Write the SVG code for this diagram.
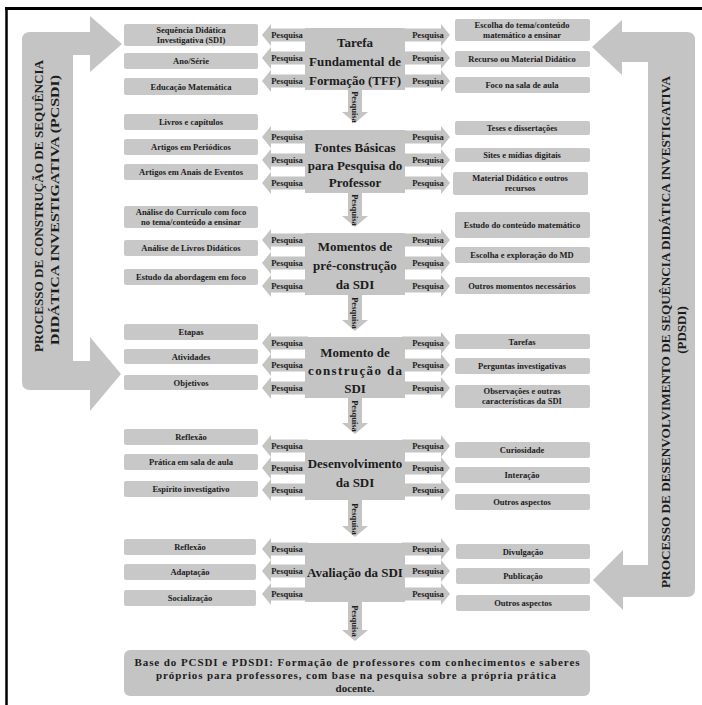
<svg xmlns="http://www.w3.org/2000/svg" width="702" height="705" viewBox="0 0 702 705">
<style>
.g{fill:#c4c4c4}
.bx{fill:#c8c8c8}
.t{font-family:'Liberation Serif','Times New Roman',serif;font-weight:bold;fill:#1c1c1c}
.s{font-size:8.5px;text-anchor:middle}
.p{font-size:8.5px;text-anchor:middle}
.c{font-size:13px;text-anchor:middle}
.side{font-size:13px;text-anchor:middle}
.base{font-size:11px;text-anchor:middle}
</style>
<rect width="702" height="705" fill="#fff"/>
<g id="frame" stroke="#000" fill="none">
<line x1="5" y1="8.5" x2="702" y2="8.5" stroke-width="3"/>
<line x1="6.5" y1="8" x2="6.5" y2="705" stroke-width="2.5"/>
</g>
<g font-family="Liberation Serif, serif" font-weight="bold">
<g id="pcsdi">
<path class="g" d="M22,40 Q22,32 30,32 H90 V16 L122,44 L90,72 V55 H73 V361 H90 V337 L121,374 L90,411 V390 H30 Q22,390 22,382 Z"/>
<text class="t side" transform="translate(43,206) rotate(-90)" textLength="292" lengthAdjust="spacingAndGlyphs">PROCESSO DE CONSTRUÇÃO DE SEQUÊNCIA</text>
<text class="t side" transform="translate(59,210) rotate(-90)" textLength="270" lengthAdjust="spacingAndGlyphs">DIDÁTICA INVESTIGATIVA (PCSDI)</text>
</g>

<g id="pdsdi">
<path class="g" d="M695,40 Q695,32 687,32 H622 V20 L592,47 L622,75 V62 H648 V565 H623 V550 L593,580 L623,610 V597 H687 Q695,597 695,589 Z"/>
<text class="t side" transform="translate(670,332) rotate(-90)" textLength="512" lengthAdjust="spacingAndGlyphs">PROCESSO DE DESENVOLVIMENTO DE SEQUÊNCIA DIDÁTICA INVESTIGATIVA</text>
<text class="t side" transform="translate(686,330) rotate(-90)">(PDSDI)</text>
</g>

<g id="connectors">
<path class="g" d="M308,28.5 H271 V24 L262,35 L271,46 V41.5 H308 Z"/>
<path class="g" d="M308,51.5 H271 V47 L262,58 L271,69 V64.5 H308 Z"/>
<path class="g" d="M308,74.5 H271 V70 L262,81 L271,92 V87.5 H308 Z"/>
<path class="g" d="M402,28.5 H441 V24 L450,35 L441,46 V41.5 H402 Z"/>
<path class="g" d="M402,51.5 H441 V47 L450,58 L441,69 V64.5 H402 Z"/>
<path class="g" d="M402,74.5 H441 V70 L450,81 L441,92 V87.5 H402 Z"/>
<path class="g" d="M348,89 H362 V112 H368 L355,123 L342,112 H348 Z"/>
<path class="g" d="M308,130.5 H271 V126 L262,137 L271,148 V143.5 H308 Z"/>
<path class="g" d="M308,153.5 H271 V149 L262,160 L271,171 V166.5 H308 Z"/>
<path class="g" d="M308,176.5 H271 V172 L262,183 L271,194 V189.5 H308 Z"/>
<path class="g" d="M402,130.5 H441 V126 L450,137 L441,148 V143.5 H402 Z"/>
<path class="g" d="M402,153.5 H441 V149 L450,160 L441,171 V166.5 H402 Z"/>
<path class="g" d="M402,176.5 H441 V172 L450,183 L441,194 V189.5 H402 Z"/>
<path class="g" d="M348,192 H362 V216 H368 L355,227 L342,216 H348 Z"/>
<path class="g" d="M308,233.5 H271 V229 L262,240 L271,251 V246.5 H308 Z"/>
<path class="g" d="M308,256.5 H271 V252 L262,263 L271,274 V269.5 H308 Z"/>
<path class="g" d="M308,279.5 H271 V275 L262,286 L271,297 V292.5 H308 Z"/>
<path class="g" d="M402,233.5 H441 V229 L450,240 L441,251 V246.5 H402 Z"/>
<path class="g" d="M402,256.5 H441 V252 L450,263 L441,274 V269.5 H402 Z"/>
<path class="g" d="M402,279.5 H441 V275 L450,286 L441,297 V292.5 H402 Z"/>
<path class="g" d="M348,294 H362 V320 H368 L355,331 L342,320 H348 Z"/>
<path class="g" d="M308,336.5 H271 V332 L262,343 L271,354 V349.5 H308 Z"/>
<path class="g" d="M308,358.5 H271 V354 L262,365 L271,376 V371.5 H308 Z"/>
<path class="g" d="M308,381.5 H271 V377 L262,388 L271,399 V394.5 H308 Z"/>
<path class="g" d="M402,336.5 H441 V332 L450,343 L441,354 V349.5 H402 Z"/>
<path class="g" d="M402,358.5 H441 V354 L450,365 L441,376 V371.5 H402 Z"/>
<path class="g" d="M402,381.5 H441 V377 L450,388 L441,399 V394.5 H402 Z"/>
<path class="g" d="M348,397 H362 V423 H368 L355,434 L342,423 H348 Z"/>
<path class="g" d="M308,439.5 H271 V435 L262,446 L271,457 V452.5 H308 Z"/>
<path class="g" d="M308,461.5 H271 V457 L262,468 L271,479 V474.5 H308 Z"/>
<path class="g" d="M308,483.5 H271 V479 L262,490 L271,501 V496.5 H308 Z"/>
<path class="g" d="M402,439.5 H441 V435 L450,446 L441,457 V452.5 H402 Z"/>
<path class="g" d="M402,461.5 H441 V457 L450,468 L441,479 V474.5 H402 Z"/>
<path class="g" d="M402,483.5 H441 V479 L450,490 L441,501 V496.5 H402 Z"/>
<path class="g" d="M348,499 H362 V526 H368 L355,537 L342,526 H348 Z"/>
<path class="g" d="M308,542.5 H271 V538 L262,549 L271,560 V555.5 H308 Z"/>
<path class="g" d="M308,564.5 H271 V560 L262,571 L271,582 V577.5 H308 Z"/>
<path class="g" d="M308,587.5 H271 V583 L262,594 L271,605 V600.5 H308 Z"/>
<path class="g" d="M402,542.5 H441 V538 L450,549 L441,560 V555.5 H402 Z"/>
<path class="g" d="M402,564.5 H441 V560 L450,571 L441,582 V577.5 H402 Z"/>
<path class="g" d="M402,587.5 H441 V583 L450,594 L441,605 V600.5 H402 Z"/>
<path class="g" d="M348,601 H362 V630 H368 L355,641 L342,630 H348 Z"/>
<g class="t p">
<text x="287" y="38">Pesquisa</text><text x="287" y="61">Pesquisa</text><text x="287" y="84">Pesquisa</text>
<text x="428" y="38">Pesquisa</text><text x="428" y="61">Pesquisa</text><text x="428" y="84">Pesquisa</text>
<text x="287" y="140">Pesquisa</text><text x="287" y="163">Pesquisa</text><text x="287" y="186">Pesquisa</text>
<text x="428" y="140">Pesquisa</text><text x="428" y="163">Pesquisa</text><text x="428" y="186">Pesquisa</text>
<text x="287" y="243">Pesquisa</text><text x="287" y="266">Pesquisa</text><text x="287" y="289">Pesquisa</text>
<text x="428" y="243">Pesquisa</text><text x="428" y="266">Pesquisa</text><text x="428" y="289">Pesquisa</text>
<text x="287" y="346">Pesquisa</text><text x="287" y="368">Pesquisa</text><text x="287" y="391">Pesquisa</text>
<text x="428" y="346">Pesquisa</text><text x="428" y="368">Pesquisa</text><text x="428" y="391">Pesquisa</text>
<text x="287" y="449">Pesquisa</text><text x="287" y="471">Pesquisa</text><text x="287" y="493">Pesquisa</text>
<text x="428" y="449">Pesquisa</text><text x="428" y="471">Pesquisa</text><text x="428" y="493">Pesquisa</text>
<text x="287" y="552">Pesquisa</text><text x="287" y="574">Pesquisa</text><text x="287" y="597">Pesquisa</text>
<text x="428" y="552">Pesquisa</text><text x="428" y="574">Pesquisa</text><text x="428" y="597">Pesquisa</text>
<text transform="translate(352,107) rotate(90)">Pesquisa</text>
<text transform="translate(352,210) rotate(90)">Pesquisa</text>
<text transform="translate(352,313) rotate(90)">Pesquisa</text>
<text transform="translate(352,416) rotate(90)">Pesquisa</text>
<text transform="translate(352,519) rotate(90)">Pesquisa</text>
<text transform="translate(352,621) rotate(90)">Pesquisa</text>
</g>
</g>

<g id="node-tff">
<rect class="g" x="305" y="28" width="100" height="62"/>
<text class="t c" x="355" y="47">Tarefa</text>
<text class="t c" x="355" y="66" textLength="92">Fundamental de</text>
<text class="t c" x="355" y="85" textLength="92">Formação (TFF)</text>
</g>
<g id="node-fontes">
<rect class="g" x="305" y="130" width="100" height="63"/>
<text class="t c" x="355" y="152">Fontes Básicas</text>
<text class="t c" x="355" y="170">para Pesquisa do</text>
<text class="t c" x="355" y="187">Professor</text>
</g>
<g id="node-pre">
<rect class="g" x="305" y="233" width="100" height="62"/>
<text class="t c" x="355" y="251">Momentos de</text>
<text class="t c" x="355" y="270">pré-construção</text>
<text class="t c" x="355" y="289">da SDI</text>
</g>
<g id="node-construcao">
<rect class="g" x="305" y="337" width="100" height="61"/>
<text class="t c" x="355" y="357">Momento de</text>
<text class="t c" x="355" y="375" textLength="94">construção da</text>
<text class="t c" x="355" y="393">SDI</text>
</g>
<g id="node-desenvolvimento">
<rect class="g" x="305" y="440" width="100" height="60"/>
<text class="t c" x="355" y="468">Desenvolvimento</text>
<text class="t c" x="355" y="487">da SDI</text>
</g>
<g id="node-avaliacao">
<rect class="g" x="305" y="543" width="100" height="59"/>
<text class="t c" x="355" y="577">Avaliação da SDI</text>
</g>

<g id="left-items">
<g id="l1a"><rect class="bx" x="124" y="24" width="134" height="22" rx="2"/><text class="t s" x="191" y="33">Sequência Didática</text><text class="t s" x="191" y="43">Investigativa (SDI)</text></g>
<g id="l1b"><rect class="bx" x="124" y="53" width="134" height="16" rx="2"/><text class="t s" x="191" y="64">Ano/Série</text></g>
<g id="l1c"><rect class="bx" x="124" y="78" width="134" height="17" rx="2"/><text class="t s" x="191" y="89.5">Educação Matemática</text></g>
<g id="l2a"><rect class="bx" x="124" y="114" width="134" height="16" rx="2"/><text class="t s" x="191" y="125">Livros e capítulos</text></g>
<g id="l2b"><rect class="bx" x="124" y="139" width="134" height="16" rx="2"/><text class="t s" x="191" y="150">Artigos em Periódicos</text></g>
<g id="l2c"><rect class="bx" x="124" y="164" width="134" height="16" rx="2"/><text class="t s" x="191" y="175">Artigos em Anais de Eventos</text></g>
<g id="l3a"><rect class="bx" x="124" y="206" width="134" height="22" rx="2"/><text class="t s" x="191" y="215">Análise do Currículo com foco</text><text class="t s" x="191" y="225">no tema/conteúdo a ensinar</text></g>
<g id="l3b"><rect class="bx" x="124" y="240" width="134" height="16" rx="2"/><text class="t s" x="191" y="251">Análise de Livros Didáticos</text></g>
<g id="l3c"><rect class="bx" x="124" y="269" width="134" height="16" rx="2"/><text class="t s" x="191" y="280">Estudo da abordagem em foco</text></g>
<g id="l4a"><rect class="bx" x="124" y="324" width="134" height="16" rx="2"/><text class="t s" x="191" y="335">Etapas</text></g>
<g id="l4b"><rect class="bx" x="124" y="349" width="134" height="15" rx="2"/><text class="t s" x="191" y="359.5">Atividades</text></g>
<g id="l4c"><rect class="bx" x="124" y="375" width="134" height="15" rx="2"/><text class="t s" x="191" y="385.5">Objetivos</text></g>
<g id="l5a"><rect class="bx" x="124" y="429" width="134" height="16" rx="2"/><text class="t s" x="191" y="440">Reflexão</text></g>
<g id="l5b"><rect class="bx" x="124" y="454" width="134" height="16" rx="2"/><text class="t s" x="191" y="465">Prática em sala de aula</text></g>
<g id="l5c"><rect class="bx" x="124" y="481" width="134" height="16" rx="2"/><text class="t s" x="191" y="492">Espírito investigativo</text></g>
<g id="l6a"><rect class="bx" x="124" y="539" width="132" height="16" rx="2"/><text class="t s" x="190" y="550">Reflexão</text></g>
<g id="l6b"><rect class="bx" x="124" y="564" width="132" height="16" rx="2"/><text class="t s" x="190" y="575">Adaptação</text></g>
<g id="l6c"><rect class="bx" x="124" y="590" width="132" height="16" rx="2"/><text class="t s" x="190" y="601">Socialização</text></g>
</g>

<g id="right-items">
<g id="r1a"><rect class="bx" x="455" y="19" width="135" height="22" rx="2"/><text class="t s" x="522" y="28">Escolha do tema/conteúdo</text><text class="t s" x="522" y="38">matemático a ensinar</text></g>
<g id="r1b"><rect class="bx" x="455" y="51" width="135" height="16" rx="2"/><text class="t s" x="522" y="62">Recurso ou Material Didático</text></g>
<g id="r1c"><rect class="bx" x="455" y="77" width="135" height="16" rx="2"/><text class="t s" x="522" y="88">Foco na sala de aula</text></g>
<g id="r2a"><rect class="bx" x="455" y="121" width="135" height="14" rx="2"/><text class="t s" x="522" y="131">Teses e dissertações</text></g>
<g id="r2b"><rect class="bx" x="455" y="148" width="135" height="14" rx="2"/><text class="t s" x="522" y="158">Sites e mídias digitais</text></g>
<g id="r2c"><rect class="bx" x="453" y="172" width="135" height="23" rx="2"/><text class="t s" x="520" y="181">Material Didático e outros</text><text class="t s" x="520" y="191">recursos</text></g>
<g id="r3a"><rect class="bx" x="455" y="212" width="135" height="26" rx="2"/><text class="t s" x="522" y="228">Estudo do conteúdo matemático</text></g>
<g id="r3b"><rect class="bx" x="455" y="247" width="135" height="16" rx="2"/><text class="t s" x="522" y="258">Escolha e exploração do MD</text></g>
<g id="r3c"><rect class="bx" x="455" y="277" width="135" height="17" rx="2"/><text class="t s" x="522" y="288.5">Outros momentos necessários</text></g>
<g id="r4a"><rect class="bx" x="455" y="334" width="135" height="15" rx="2"/><text class="t s" x="522" y="344.5">Tarefas</text></g>
<g id="r4b"><rect class="bx" x="455" y="358" width="135" height="16" rx="2"/><text class="t s" x="522" y="369">Perguntas investigativas</text></g>
<g id="r4c"><rect class="bx" x="455" y="385" width="135" height="23" rx="2"/><text class="t s" x="522" y="394">Observações e outras</text><text class="t s" x="522" y="404">características da SDI</text></g>
<g id="r5a"><rect class="bx" x="455" y="442" width="135" height="16" rx="2"/><text class="t s" x="522" y="453">Curiosidade</text></g>
<g id="r5b"><rect class="bx" x="455" y="467" width="135" height="16" rx="2"/><text class="t s" x="522" y="478">Interação</text></g>
<g id="r5c"><rect class="bx" x="455" y="494" width="135" height="16" rx="2"/><text class="t s" x="522" y="505">Outros aspectos</text></g>
<g id="r6a"><rect class="bx" x="456" y="544" width="134" height="15" rx="2"/><text class="t s" x="523" y="554.5">Divulgação</text></g>
<g id="r6b"><rect class="bx" x="456" y="568" width="134" height="16" rx="2"/><text class="t s" x="523" y="579">Publicação</text></g>
<g id="r6c"><rect class="bx" x="456" y="595" width="134" height="16" rx="2"/><text class="t s" x="523" y="606">Outros aspectos</text></g>
</g>

<g id="base">
<rect class="g" x="124" y="650" width="466" height="46" rx="6"/>
<text class="t base" x="357" y="666" textLength="445" lengthAdjust="spacing">Base do PCSDI e PDSDI: Formação de professores com conhecimentos e saberes</text>
<text class="t base" x="356" y="679" textLength="400" lengthAdjust="spacing">próprios para professores, com base na pesquisa sobre a própria prática</text>
<text class="t base" x="355" y="692">docente.</text>
</g>
</g>
</svg>
